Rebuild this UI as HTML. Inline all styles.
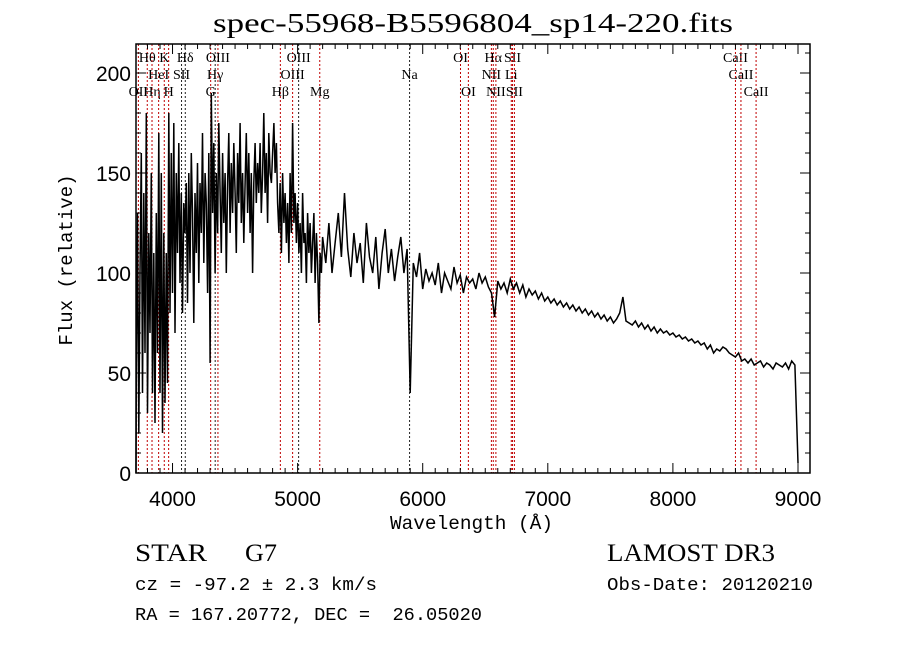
<!DOCTYPE html>
<html><head><meta charset="utf-8">
<style>
html,body{margin:0;padding:0;background:#fff;}
svg{display:block;}
.t{font-family:"Liberation Sans",sans-serif;fill:#000;}
.s{font-family:"Liberation Serif",serif;fill:#000;}
.m{font-family:"Liberation Mono",monospace;fill:#000;}
</style></head>
<body>
<svg id="chart" width="900" height="649" viewBox="0 0 900 649" xmlns="http://www.w3.org/2000/svg">
<rect x="0" y="0" width="900" height="649" fill="#fff"/>
<text class="s" x="213" y="32" font-size="27" textLength="520" lengthAdjust="spacingAndGlyphs">spec-55968-B5596804_sp14-220.fits</text>
<g id="lines"></g>
<g id="series"></g>
<g id="axes"></g>
<text class="m" x="390" y="529" font-size="19" textLength="163" lengthAdjust="spacingAndGlyphs">Wavelength (Å)</text>
<text class="m" x="0" y="0" font-size="19" text-anchor="middle" transform="translate(72,260) rotate(-90)">Flux (relative)</text>
<text class="s" x="135" y="561" font-size="25" textLength="72" lengthAdjust="spacingAndGlyphs">STAR</text>
<text class="s" x="245" y="561" font-size="25" textLength="32" lengthAdjust="spacingAndGlyphs">G7</text>
<text class="m" x="135" y="590" font-size="18" textLength="242" lengthAdjust="spacingAndGlyphs">cz = -97.2 ± 2.3 km/s</text>
<text class="m" x="135" y="620" font-size="18" textLength="347" lengthAdjust="spacingAndGlyphs" xml:space="preserve">RA = 167.20772, DEC =  26.05020</text>
<text class="s" x="607" y="561" font-size="25" textLength="168" lengthAdjust="spacingAndGlyphs">LAMOST DR3</text>
<text class="m" x="607" y="590" font-size="18" textLength="206" lengthAdjust="spacingAndGlyphs">Obs-Date: 20120210</text>
</svg>
<script>
const blueStart = 3710, blueStep = 10;
const blueFlux = [50,130,20,100,160,40,140,60,180,
30,120,70,150,40,110,25,130,60,170,
40,150,20,120,35,110,45,180,80,160,
90,175,70,150,110,165,95,140,80,135,
120,145,85,150,100,160,130,75,140,110,
155,95,145,120,170,105,150,135,90,160,
55,190,130,165,100,150,120,175,140,110,
160,125,150,100,145,170,120,155,130,165,
140,110,160,135,175,125,150,115,145,170,
130,160,120,150,100,145,165,135,155,140,
165,130,150,180,140,160,125,170,150,145,
160,175,150,165,135,120,145,110,150,125,
140,115,135,105,150,120,175,125,140,115,
135,110,125,100,140,115,120,95,130,110,
125,100,115,130,95,120,105,75,110,100];
const redStart = 5200, redStep = 25;
const redFlux = [118,105,125,100,115,130,108,140,112,98,120,105,
115,95,125,108,100,118,92,110,122,100,112,96,
108,118,100,112,40,105,98,110,92,102,96,100,
94,105,90,100,96,92,103,95,99,90,98,95,
97,92,100,95,98,93,90,78,96,92,95,90,
97,92,95,90,94,88,92,89,91,87,90,86,
88,85,87,84,86,83,85,82,84,81,83,80,
82,79,81,78,80,77,79,76,78,75,77,80,
88,76,75,74,76,73,75,72,74,71,73,70,
72,70,71,69,70,68,69,67,68,66,67,65,
66,64,65,62,64,60,62,61,63,62,60,59,
58,60,56,57,55,57,54,55,56,53,55,54,
52,55,54,53,55,52,56,54,
5];
const lineWaves = [3727,3798,3836,3889,3934,3969,4072,4102,4305,4341,4363,4862,4960,5008,5177,5895,6302,6365,6549,6564,6585,6708,6718,6733,8500,8544,8665];
const lineNames = ["OII","Hθ","Hη","HeI","K","H","SII","Hδ","G","Hγ","OIII","Hβ","OIII","OIII","Mg","Na","OI","OI","NII","Hα","NII","Li","SII","SII","CaII","CaII","CaII"];
const lineRows = [3,1,3,2,1,3,2,1,3,2,1,3,2,1,3,2,1,3,2,1,3,2,1,3,1,2,3];
const lineRed = [1,1,1,1,1,1,0,0,1,0,1,1,1,0,1,0,1,1,1,1,1,1,1,1,1,1,1];
const xTicks = [4000,5000,6000,7000,8000,9000];
const yTicks = [0,50,100,150,200];

const L=136,R=810,T=44,B=473;
const xMin=3708,xMax=9096,yMin=0,yMax=214.5;
const xs = w => L+(w-xMin)/(xMax-xMin)*(R-L);
const ys = v => B-(v-yMin)/(yMax-yMin)*(B-T);
const NS="http://www.w3.org/2000/svg";
function mk(tag, attrs, parent){const e=document.createElementNS(NS,tag);for(const k in attrs)e.setAttribute(k,attrs[k]);parent.appendChild(e);return e;}

const lg=document.getElementById('lines');
const rowY=[0,62,79,96];
lineWaves.forEach((w,i)=>{
  const x=xs(w);
  const ln=mk('line',{x1:x,y1:T,x2:x,y2:B,stroke:lineRed[i]?'#c00000':'#222','stroke-width':1,'stroke-dasharray':'2,2'},lg);
  
  
  const tx=mk('text',{x:x,y:rowY[lineRows[i]],'font-size':14,'text-anchor':'middle',class:'s'},lg);
  tx.textContent=lineNames[i];
  
  
});

const pts=[[xs(3708),ys(0)]];
blueFlux.forEach((v,i)=>pts.push([xs(blueStart+i*blueStep),ys(v)]));
redFlux.forEach((v,i)=>pts.push([xs(redStart+i*redStep),ys(v)]));
const sg=document.getElementById('series');
const pl=mk('polyline',{points:pts.map(p=>p[0].toFixed(1)+','+p[1].toFixed(1)).join(' '),fill:'none',stroke:'#000','stroke-width':1.5,'stroke-linejoin':'miter'},sg);



const ag=document.getElementById('axes');
const frame=mk('rect',{x:L,y:T,width:R-L,height:B-T,fill:'none',stroke:'#000','stroke-width':1.5},ag);


for(let w=3800;w<=9000;w+=100){
  const x=xs(w),len=(w%1000===0)?10:5;
  mk('line',{x1:x,y1:B,x2:x,y2:B-len,stroke:'#000'},ag);
  mk('line',{x1:x,y1:T,x2:x,y2:T+len,stroke:'#000'},ag);
}
for(let v=0;v<=210;v+=10){
  const y=ys(v),len=(v%50===0)?10:5;
  mk('line',{x1:L,y1:y,x2:L+len,y2:y,stroke:'#000'},ag);
  mk('line',{x1:R,y1:y,x2:R-len,y2:y,stroke:'#000'},ag);
}
xTicks.forEach(w=>{
  const t=mk('text',{x:xs(w),y:506,'font-size':21,'text-anchor':'middle',class:'t','font-weight':'normal'},ag);
  t.textContent=w;
  
  
});
yTicks.forEach(v=>{
  const t=mk('text',{x:131,y:ys(v)+8,'font-size':21,'text-anchor':'end',class:'t'},ag);
  t.textContent=v;
  
  
});
</script>
</body></html>
